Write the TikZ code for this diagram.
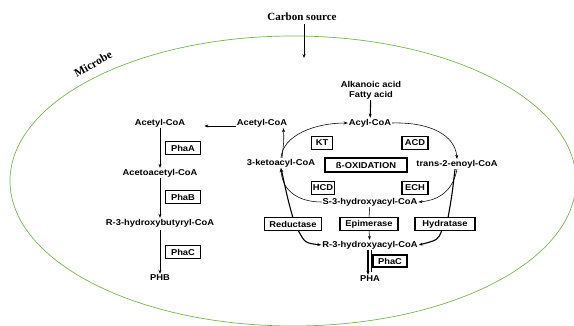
\documentclass[tikz,border=0pt]{standalone}
\usepackage{fontspec}
\setmainfont{Liberation Serif}
\newfontfamily\arb[FakeStretch=1.1]{Liberation Sans}
\usetikzlibrary{arrows.meta}
\definecolor{cellgreen}{RGB}{120,180,80}
\begin{document}
\begin{tikzpicture}[x=1pt,y=-1pt,
  lbl/.style={font=\arb\bfseries\fontsize{8.5}{10}\selectfont, inner sep=1pt},
  bx/.style={lbl, draw, line width=1.1pt, fill=white, inner sep=0pt, minimum height=13pt},
  tip/.style={-{Stealth[length=4pt,width=3pt]}},
  ln/.style={line width=0.55pt},
  lnb/.style={line width=1.1pt}]
\useasboundingbox (0,0) rectangle (574,326);
\draw[cellgreen, line width=0.7pt] (293,181) ellipse [x radius=283, y radius=145];
\node[font=\bfseries\fontsize{11}{12}\selectfont] (cs) at (302,17) {Carbon source};
\coordinate (csend) at (304,58);
\draw[ln,tip] (cs.south -| csend) -- (csend);
\node[rotate=29, font=\bfseries\fontsize{11.5}{12}\selectfont] (mic) at (93,64) {Microbe};

\node[lbl, align=center] (fa) at (371,90) {Alkanoic acid\\Fatty acid};
\node[lbl] (acyl) at (370,123) {Acyl-CoA};
\draw[lnb,tip] (fa) -- (acyl);

\node[lbl] (acR) at (262,123) {Acetyl-CoA};
\node[lbl] (acL) at (160,123) {Acetyl-CoA};
\draw[ln,tip,shorten >=18pt] ([yshift=-3pt]acR.west) -- ([yshift=-3pt]acL.east);

% left column
\node[lbl] (aac) at (160,173) {Acetoacetyl-CoA};
\node[lbl] (r3b) at (160,223) {R-3-hydroxybutyryl-CoA};
\node[lbl] (phb) at (160,278) {PHB};
\draw[ln,tip] (acL) -- (aac);
\draw[ln,tip] (aac) -- (r3b);
\draw[ln,tip,shorten <=2pt] (r3b) -- (phb);
\node[bx,minimum width=35pt] (phaa) at (183,148) {PhaA};
\node[bx,minimum width=35pt] (phab) at (183,197) {PhaB};
\node[bx,minimum width=35pt] (phac) at (183,252) {PhaC};

% beta-oxidation cycle
\node[bx,minimum width=21pt] (kt) at (322,143) {KT};
\node[bx,minimum width=26pt] (acd) at (415,143) {ACD};
\node[bx,minimum width=82pt,minimum height=14pt] (box) at (366,165) {ß-OXIDATION};
\node[lbl] (keto) at (281,163) {3-ketoacyl-CoA};
\node[lbl] (enoyl) at (457,164) {trans-2-enoyl-CoA};
\node[bx,minimum width=23pt] (hcd) at (323,188) {HCD};
\node[bx,minimum width=26pt] (ech) at (415,188) {ECH};
\node[lbl] (s3) at (370,202) {S-3-hydroxyacyl-CoA};
\node[lbl] (r3) at (370,245) {R-3-hydroxyacyl-CoA};
\node[lbl] (pha) at (370,279) {PHA};

\draw[ln,tip] (acyl.east) .. controls (430,122) and (455,135) .. (enoyl.north);
\draw[ln,tip] (enoyl.south) .. controls (453,190) and (440,200) .. (s3.east);
\draw[ln,tip] (s3.west) .. controls (300,202) and (282,192) .. (keto.south);
\draw[ln,tip] (keto.north) .. controls (283,135) and (315,123) .. (acyl.west);
\draw[ln,tip] ([xshift=1pt]keto.north) .. controls (284,140) .. ([xshift=-5pt]acR.south east);

\draw[lnb,tip] (293,218) .. controls (288,200) .. (keto.south);
\draw[lnb,tip] (298,230) .. controls (305,243) .. (r3.west);
\draw[ln] (s3) -- (369,218);
\draw[ln,tip] (369,230) -- (r3);
\draw[lnb] ([xshift=-2pt]enoyl.south) .. controls (452,195) .. (448,218);
\draw[lnb,tip] (442,230) .. controls (438,240) .. (r3.east);

\node[bx,minimum width=57pt] (red) at (293,224) {Reductase};
\node[bx,minimum width=58pt] (epi) at (369,224) {Epimerase};
\node[bx,minimum width=60pt] (hyd) at (445,224) {Hydratase};

\draw[lnb,tip] ([xshift=-2pt]r3.south) -- ([xshift=-2pt]pha.north);
\draw[ln] ([xshift=1.5pt]r3.south) -- ([xshift=1.5pt,yshift=3pt]pha.north);
\node[bx,minimum width=34pt,minimum height=12pt] (phac2) at (390,261) {PhaC};
\end{tikzpicture}
\end{document}
